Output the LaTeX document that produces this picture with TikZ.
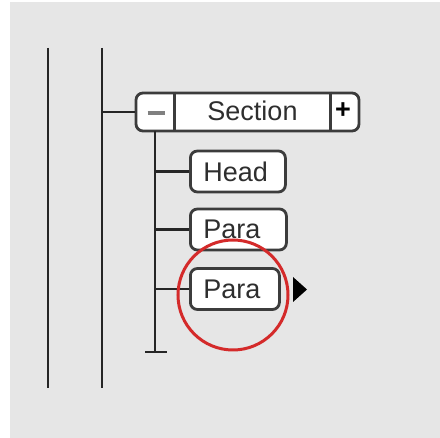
\documentclass[tikz,border=0pt]{standalone}
\usepackage{fontspec}
\setmainfont{Liberation Sans}
\usetikzlibrary{positioning,shapes.geometric}
\definecolor{Ink}{HTML}{2E2E2E}
\definecolor{Frame}{HTML}{3C3C3C}
\definecolor{Panel}{HTML}{E6E6E6}
\definecolor{Mark}{HTML}{D42A2A}
\newcommand{\labelfont}{\fontsize{27}{30}\selectfont}

\begin{document}
\begin{tikzpicture}[x=1pt,y=-1pt,
  item/.style={rounded corners=7pt,draw=Frame,line width=2.8pt,fill=white,minimum height=41pt,inner xsep=13pt,inner ysep=0pt,anchor=west,align=left,font=\labelfont,text=Ink},
  wire/.style={line width=2.6pt,draw=black!85},
  glyph/.style={font=\labelfont,inner sep=0pt}
]
\useasboundingbox (0,0) rectangle (440,438);
\fill[Panel] (10,2) rectangle (440,438);
% section box
\node[item,anchor=center,minimum width=223pt,minimum height=38pt] (sec) at (247.5,112) {};
\draw[Frame,line width=2.6pt] ([xshift=40pt]sec.north west) -- ([xshift=40pt]sec.south west);
\draw[Frame,line width=2.6pt] ([xshift=-30pt]sec.north east) -- ([xshift=-30pt]sec.south east);
\node[glyph,text=black!50] (minus) at (156,113) {\rule{17pt}{3.2pt}};
\node[glyph,text=Ink] (sectxt) at (252.5,111) {Section};
\node[glyph,text=black] (plus) at (343,111) {\textbf{+}};
% children
\node[item,text width=69pt] (head) at (189,171.5) {Head};
\node[item,text width=70pt] (para1) at (189,229.5) {Para};
\node[item,text width=63pt] (para2) at (189,289) {Para};
% rails
\coordinate (r1top) at (48,48);
\coordinate (r1bot) at (48,388);
\coordinate (r2top) at (102,48);
\coordinate (r2bot) at (102,388);
\foreach \r in {r1,r2} {
  \draw[wire] (\r top) -- (\r bot);
}
\draw[wire] (r2top |- sec.west) -- (sec.west);
% trunk
\coordinate (trunk) at (155,131);
\coordinate (foot) at (155,352);
\draw[wire] (trunk) -- (foot);
\draw[wire] ([xshift=-10pt]foot) -- ([xshift=12pt]foot);
\foreach \n in {head,para1,para2} {
  \draw[wire] (trunk |- \n.west) -- (\n.west);
}
% pointer and highlight
\coordinate (pointer) at (293,277);
\fill[black] (pointer) -- ++(14,12.5) -- ++(-14,12.5) -- cycle;
\node[circle,draw=Mark,line width=3pt,minimum size=110pt] (focus) at (233,295) {};
\end{tikzpicture}
\end{document}
